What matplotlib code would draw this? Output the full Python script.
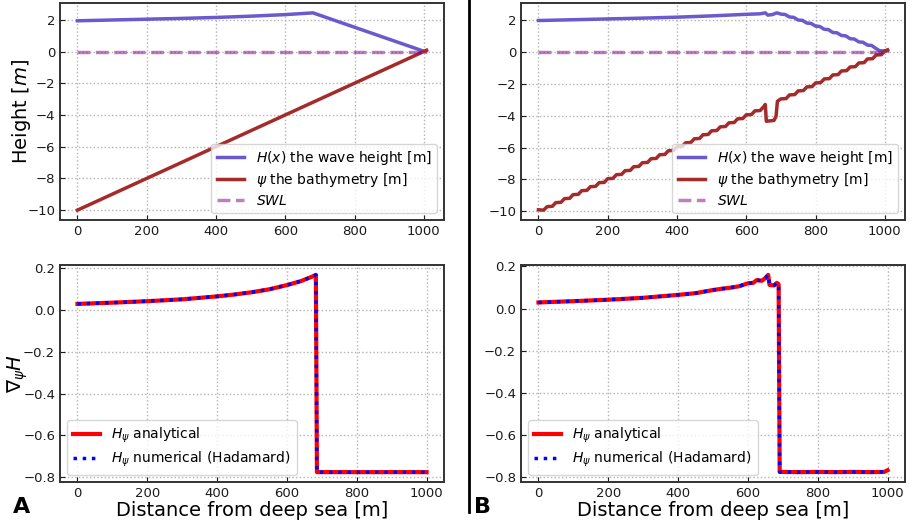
import matplotlib.pyplot as plt
from matplotlib.lines import Line2D

# ---- panel A data (smooth beach) ----
xA_H = [0, 100, 200, 300, 400, 500, 600, 680, 1005]
H_A = [1.96, 2.01, 2.06, 2.11, 2.17, 2.25, 2.35, 2.46, 0.0]

xA_psi = [0, 1008]
psi_A = [-10.0, 0.1]

x_swl = [0, 1008]
swl = [0, 0]

xA_grad = [0, 100, 200, 300, 400, 450, 500, 550, 600, 640, 670, 683, 686, 1000]
grad_A = [0.029, 0.035, 0.042, 0.051, 0.065, 0.074, 0.085, 0.099, 0.119, 0.138,
          0.158, 0.168, -0.776, -0.776]

# ---- panel B data (noisy beach) ----
xB_H = [0, 100, 200, 300, 400, 500, 600, 640, 655, 662, 675, 688, 695,
        700, 712, 725, 737, 750, 762, 775, 787, 800, 812, 825, 837, 850, 862,
        875, 887, 900, 912, 925, 937, 950, 962, 975, 985, 1000, 1008]
H_B = [1.96, 2.01, 2.06, 2.11, 2.17, 2.25, 2.35, 2.38, 2.44, 2.30, 2.33, 2.44, 2.40,
       2.36, 2.34, 2.18, 2.16, 1.99, 1.97, 1.80, 1.78, 1.61, 1.59, 1.41, 1.39,
       1.21, 1.19, 1.02, 1.00, 0.82, 0.80, 0.62, 0.60, 0.42, 0.40, 0.20, 0.07,
       0.05, 0.06]

xB_psi = [0, 15, 25, 40, 50, 65, 75, 90, 100, 115, 125, 140, 150, 165, 175, 190,
          200, 215, 225, 240, 250, 265, 275, 290, 300, 315, 325, 340, 350, 365,
          375, 390, 400, 415, 425, 440, 450, 465, 475, 490, 500, 515, 525, 540,
          550, 565, 575, 590, 600, 615, 625, 640, 650, 655, 658, 680, 686, 690,
          700, 715, 725, 740, 750, 765, 775, 790, 800, 815, 825, 840, 850, 865,
          875, 890, 900, 915, 925, 940, 950, 965, 975, 990, 1000, 1008]
psi_B = [-9.90, -9.92, -9.70, -9.68, -9.45, -9.43, -9.20, -9.18, -8.95, -8.93,
         -8.70, -8.68, -8.45, -8.43, -8.20, -8.18, -7.95, -7.93, -7.70, -7.68,
         -7.45, -7.43, -7.20, -7.18, -6.95, -6.93, -6.70, -6.68, -6.45, -6.43,
         -6.20, -6.18, -5.95, -5.93, -5.70, -5.68, -5.45, -5.43, -5.20, -5.18,
         -4.95, -4.93, -4.70, -4.68, -4.45, -4.43, -4.20, -4.18, -3.95, -3.93,
         -3.70, -3.68, -3.45, -3.30, -4.35, -4.30, -4.05, -3.10,
         -2.95, -2.93, -2.70, -2.68, -2.45, -2.43, -2.20, -2.18, -1.95, -1.93,
         -1.70, -1.68, -1.45, -1.43, -1.20, -1.18, -0.95, -0.93, -0.70, -0.68,
         -0.45, -0.43, -0.20, -0.18, 0.05, 0.12]

xB_grad = [0, 100, 200, 300, 400, 450, 500, 525, 550, 575, 600, 615, 625, 640,
           650, 658, 662, 675, 683, 688, 691, 750, 800, 850, 900, 950, 990, 1000]
grad_B = [0.029, 0.035, 0.042, 0.051, 0.065, 0.073, 0.088, 0.094, 0.099, 0.106,
          0.120, 0.122, 0.135, 0.132, 0.145, 0.160, 0.112, 0.110, 0.122, 0.115,
          -0.776, -0.777, -0.776, -0.777, -0.776, -0.777, -0.776, -0.768]

plt.rcParams['font.family'] = 'DejaVu Sans'

fig = plt.figure(figsize=(9.16, 5.25), dpi=100)
W, Hpx = 916, 525


def make_ax(left, top, right, bottom):
    ax = fig.add_axes([left / W, 1 - bottom / Hpx, (right - left) / W, (bottom - top) / Hpx])
    ax.grid(True, linestyle=':', color='0.7', linewidth=1)
    ax.tick_params(direction='in', labelsize=9.5, colors='0.1')
    for s in ax.spines.values():
        s.set_color('0.2')
        s.set_linewidth(1.4)
    return ax


panels = [
    (60, 444, xA_H, H_A, xA_psi, psi_A, xA_grad, grad_A, 'A'),
    (521, 905, xB_H, H_B, xB_psi, psi_B, xB_grad, grad_B, 'B'),
]

for i, (l, r, xh, h, xp, p, xg, g, tag) in enumerate(panels):
    ax1 = make_ax(l, 3, r, 220)
    ax1.plot(xh, h, color='slateblue', lw=2.5, label=r'$H(x)$ the wave height [m]')
    ax1.plot(xp, p, color='brown', lw=2.5, label=r'$\psi$ the bathymetry [m]')
    ax1.plot(x_swl, swl, color='purple', alpha=0.5, lw=2.5, ls='--', label=r'$SWL$')
    ax1.legend(loc='lower right', fontsize=10, labelspacing=0.3)

    ax2 = make_ax(l, 265, r, 482)
    ax2.plot(xg, g, color='red', lw=3, label=r'$H_\psi$ analytical')
    ax2.plot(xg, g, color='blue', lw=2.5, ls=':', label=r'$H_\psi$ numerical (Hadamard)')
    ax2.legend(loc='lower left', fontsize=10, labelspacing=0.35)
    ax2.set_xlabel('Distance from deep sea [m]', fontsize=14, labelpad=1)

    if i == 0:
        ax1.set_ylabel(r'Height [$m$]', fontsize=14)
        ax1.yaxis.set_label_coords(-0.07, 0.5)
        ax2.set_ylabel(r'$\nabla_\psi H$', fontsize=14)
        ax2.yaxis.set_label_coords(-0.078, 0.5)

    fig.text((l - 47) / W, 1 - 513 / Hpx, tag, fontsize=16, fontweight='bold')

fig.add_artist(Line2D([469 / W, 469 / W], [1 - 512 / Hpx, 1.0], color='black', lw=2))

fig.savefig('out.png', dpi=100)
